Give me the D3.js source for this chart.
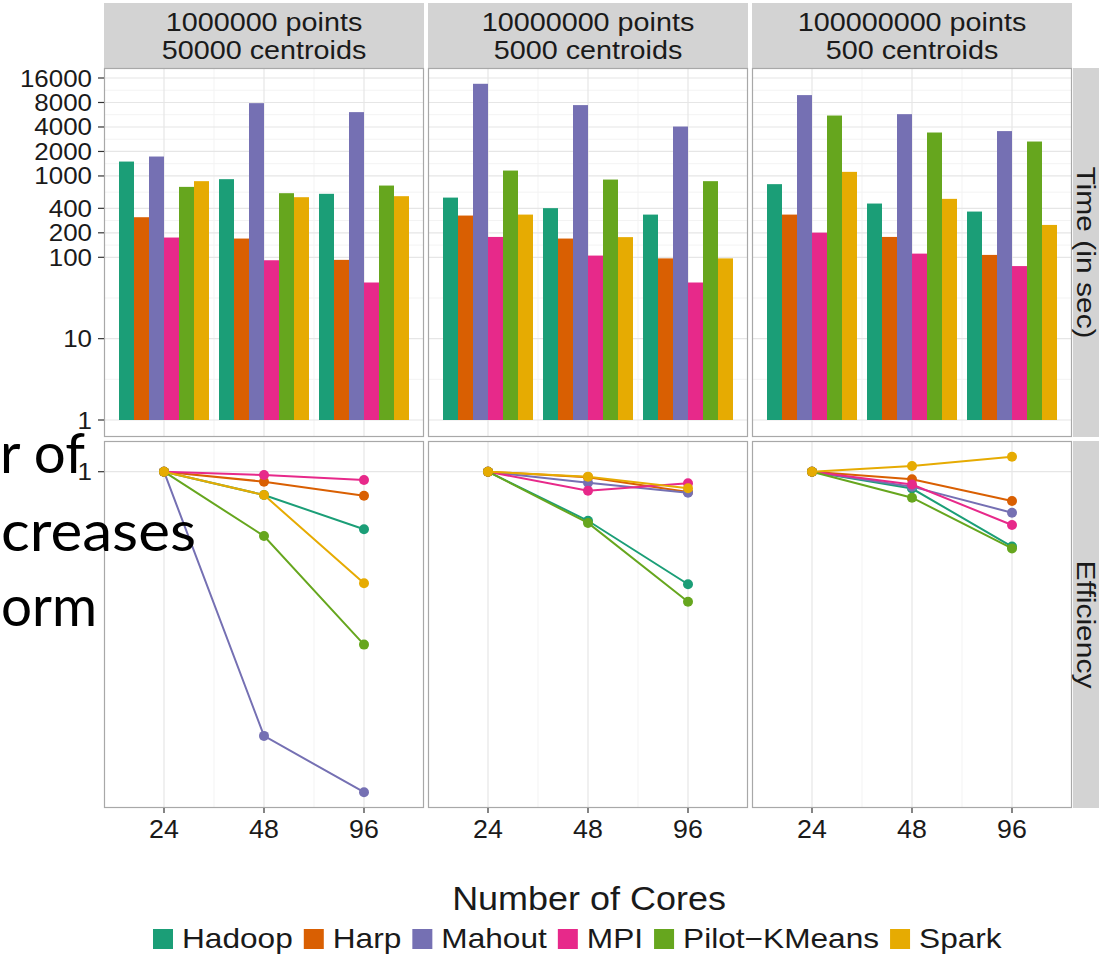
<!DOCTYPE html>
<html>
<head>
<meta charset="utf-8">
<script src="https://cdn.jsdelivr.net/npm/d3@7/dist/d3.min.js"></script>
<style>
  html, body { margin: 0; padding: 0; background: #fff; }
  svg { display: block; }
  text { font-family: "Liberation Sans", Arial, sans-serif; fill: #1a1a1a; }
</style>
</head>
<body>
<svg id="chart" width="1099" height="956"></svg>
<script>
// ---------------- DATA ----------------
const cores = ["24", "48", "96"];
const series = ["Hadoop", "Harp", "Mahout", "MPI", "Pilot\u2212KMeans", "Spark"];
const colors = ["#1B9E77", "#D95F02", "#7570B3", "#E7298A", "#66A61E", "#E6AB02"];
const datasetLine1 = ["1000000 points", "10000000 points", "100000000 points"];
const datasetLine2 = ["50000 centroids", "5000 centroids", "500 centroids"];
const timeTicks = [1, 10, 100, 200, 400, 1000, 2000, 4000, 8000, 16000];
const effTicks = [1];

// Time (in sec): one row per dataset, values at 24/48/96 cores
const timeHadoop = [[1503, 913, 603], [542, 402, 335], [793, 458, 365]];
const timeHarp   = [[311, 170, 93],   [326, 170, 97],  [335, 178, 107]];
const timeMahout = [[1733, 7850, 6090], [13580, 7430, 4050], [9860, 5750, 3560]];
const timeMPI    = [[175, 92, 49],    [178, 105, 49],  [201, 111, 78]];
const timePilot  = [[734, 614, 762],  [1165, 903, 863], [5530, 3420, 2650]];
const timeSpark  = [[863, 548, 564],  [335, 177, 97],  [1123, 523, 250]];

// Efficiency: one row per dataset, values at 24/48/96 cores
const effHadoop = [[1, 0.825, 0.622], [1, 0.667, 0.395], [1, 0.870, 0.539]];
const effHarp   = [[1, 0.921, 0.820], [1, 0.955, 0.845], [1, 0.939, 0.785]];
const effMahout = [[1, 0.113, 0.071], [1, 0.913, 0.841], [1, 0.884, 0.713]];
const effMPI    = [[1, 0.973, 0.934], [1, 0.855, 0.909], [1, 0.900, 0.644]];
const effPilot  = [[1, 0.588, 0.240], [1, 0.655, 0.342], [1, 0.807, 0.531]];
const effSpark  = [[1, 0.825, 0.398], [1, 0.960, 0.872], [1, 1.048, 1.132]];

const timeData = [timeHadoop, timeHarp, timeMahout, timeMPI, timePilot, timeSpark];
const effData  = [effHadoop, effHarp, effMahout, effMPI, effPilot, effSpark];

// ---------------- LAYOUT ----------------
const svg = d3.select("#chart");
svg.append("rect").attr("width", 1099).attr("height", 956).attr("fill", "#fff");

const panelW = 320, gapX = 4;
const panelX = [104, 104 + panelW + gapX, 104 + 2 * (panelW + gapX)];
const topY0 = 68, topY1 = 437, botY0 = 441, botY1 = 808;
const stripTop = 3;
const stripFill = "#d3d3d3";
const borderColor = "#a8a8a8";
const gridMajor = "#e6e6e6", gridMinor = "#f3f3f3";

const yTime = d3.scaleLog().domain([1, 16000]).range([420, 78]);
const yEff = d3.scaleLog().domain([0.1, 1]).range([471.7 + 279, 471.7]);

function txt(g, x, y, s, size, sx, anchor, rot) {
  return g.append("text")
    .attr("transform", `translate(${x},${y}) rotate(${rot || 0}) scale(${sx},1)`)
    .attr("text-anchor", anchor || "middle")
    .style("font-size", size + "px")
    .text(s);
}

const color = d3.scaleOrdinal().domain(series).range(colors);

panelX.forEach((x0, p) => {
  const xBand = d3.scaleBand().domain(cores).range([x0, x0 + panelW]).paddingInner(0).paddingOuter(0.1);
  const step = xBand.step();
  const xSub = d3.scaleBand().domain(series).range([-0.45 * step, 0.45 * step]).padding(0);
  const xc = c => xBand(c) + xBand.bandwidth() / 2;

  // top strip
  const sg = svg.append("g");
  sg.append("rect").attr("x", x0).attr("y", stripTop).attr("width", panelW).attr("height", topY0 - stripTop).attr("fill", stripFill);
  txt(sg, x0 + panelW / 2, 31, datasetLine1[p], 25, 1.15);
  txt(sg, x0 + panelW / 2, 59, datasetLine2[p], 25, 1.15);

  // ---- top panel (time) ----
  const g1 = svg.append("g");
  g1.append("rect").attr("x", x0).attr("y", topY0).attr("width", panelW).attr("height", topY1 - topY0).attr("fill", "#fff");
  // minor horizontal grid (geometric midpoints)
  for (let i = 0; i < timeTicks.length - 1; i++) {
    const m = Math.sqrt(timeTicks[i] * timeTicks[i + 1]);
    g1.append("line").attr("x1", x0).attr("x2", x0 + panelW).attr("y1", yTime(m)).attr("y2", yTime(m)).attr("stroke", gridMinor).attr("stroke-width", 1);
  }
  // minor vertical grid
  [0, 1].forEach(i => {
    const xm = (xc(cores[i]) + xc(cores[i + 1])) / 2;
    g1.append("line").attr("x1", xm).attr("x2", xm).attr("y1", topY0).attr("y2", topY1).attr("stroke", gridMinor);
  });
  timeTicks.forEach(t => {
    g1.append("line").attr("x1", x0).attr("x2", x0 + panelW).attr("y1", yTime(t)).attr("y2", yTime(t)).attr("stroke", gridMajor).attr("stroke-width", 1.2);
  });
  cores.forEach(c => {
    g1.append("line").attr("x1", xc(c)).attr("x2", xc(c)).attr("y1", topY0).attr("y2", topY1).attr("stroke", gridMajor).attr("stroke-width", 1.2);
  });
  // bars
  series.forEach((s, si) => {
    cores.forEach((c, ci) => {
      const v = timeData[si][p][ci];
      g1.append("rect")
        .attr("x", xc(c) + xSub(s))
        .attr("width", xSub.bandwidth())
        .attr("y", yTime(v))
        .attr("height", yTime(1) - yTime(v))
        .attr("fill", color(s));
    });
  });
  g1.append("rect").attr("x", x0 + 0.5).attr("y", topY0 + 0.5).attr("width", panelW - 1).attr("height", topY1 - topY0 - 1)
    .attr("fill", "none").attr("stroke", borderColor).attr("stroke-width", 1.2);

  // ---- bottom panel (efficiency) ----
  const g2 = svg.append("g");
  g2.append("rect").attr("x", x0).attr("y", botY0).attr("width", panelW).attr("height", botY1 - botY0).attr("fill", "#fff");
  [0, 1].forEach(i => {
    const xm = (xc(cores[i]) + xc(cores[i + 1])) / 2;
    g2.append("line").attr("x1", xm).attr("x2", xm).attr("y1", botY0).attr("y2", botY1).attr("stroke", gridMinor);
  });
  effTicks.forEach(t => {
    g2.append("line").attr("x1", x0).attr("x2", x0 + panelW).attr("y1", yEff(t)).attr("y2", yEff(t)).attr("stroke", gridMajor).attr("stroke-width", 1.2);
  });
  cores.forEach(c => {
    g2.append("line").attr("x1", xc(c)).attr("x2", xc(c)).attr("y1", botY0).attr("y2", botY1).attr("stroke", gridMajor).attr("stroke-width", 1.2);
  });
  const line = d3.line().x(d => xc(d.c)).y(d => yEff(d.v));
  series.forEach((s, si) => {
    const pts = cores.map((c, ci) => ({ c: c, v: effData[si][p][ci] }));
    g2.append("path").attr("d", line(pts)).attr("fill", "none").attr("stroke", color(s)).attr("stroke-width", 2);
    g2.selectAll(null).data(pts).enter().append("circle")
      .attr("cx", d => xc(d.c)).attr("cy", d => yEff(d.v)).attr("r", 5).attr("fill", color(s));
  });
  g2.append("rect").attr("x", x0 + 0.5).attr("y", botY0 + 0.5).attr("width", panelW - 1).attr("height", botY1 - botY0 - 1)
    .attr("fill", "none").attr("stroke", borderColor).attr("stroke-width", 1.2);

  // x axis ticks + labels
  cores.forEach(c => {
    svg.append("line").attr("x1", xc(c)).attr("x2", xc(c)).attr("y1", botY1).attr("y2", botY1 + 5).attr("stroke", "#333").attr("stroke-width", 1.2);
    txt(svg, xc(c), 838, c, 26, 1.03);
  });
});

// y axis (time) on the left
timeTicks.forEach(t => {
  svg.append("line").attr("x1", 98).attr("x2", 104).attr("y1", yTime(t)).attr("y2", yTime(t)).attr("stroke", "#333").attr("stroke-width", 1.2);
  txt(svg, 92, yTime(t) + 8.5, String(t), 24, 1.08, "end");
});
effTicks.forEach(t => {
  svg.append("line").attr("x1", 98).attr("x2", 104).attr("y1", yEff(t)).attr("y2", yEff(t)).attr("stroke", "#333").attr("stroke-width", 1.2);
  txt(svg, 92, yEff(t) + 8.5, String(t), 24, 1.08, "end");
});

// right strips
const rx = panelX[2] + panelW + 1;
svg.append("rect").attr("x", rx).attr("y", topY0).attr("width", 40).attr("height", topY1 - topY0).attr("fill", stripFill);
svg.append("rect").attr("x", rx).attr("y", botY0).attr("width", 40).attr("height", botY1 - botY0).attr("fill", stripFill);
txt(svg, 1077, (topY0 + topY1) / 2, "Time (in sec)", 25, 1.2, "middle", 90);
txt(svg, 1077, (botY0 + botY1) / 2, "Efficiency", 25, 1.2, "middle", 90);

// x axis title
txt(svg, 589, 910, "Number of Cores", 33, 1.09, "middle");

// legend
const lg = svg.append("g");
let lx = 153;
series.forEach((s, i) => {
  lg.append("rect").attr("x", lx).attr("y", 929).attr("width", 20).attr("height", 20).attr("fill", color(s));
  const t = txt(lg, lx + 29, 948, s, 28, 1.13, "start");
  const w = t.node().getComputedTextLength() * 1.13;
  lx += 29 + w + 11;
});

// slide text overlay (partially visible, cut at left edge)
const ov = svg.append("g");
const ovLines = [["r of", 0, 473, 85], ["creases", 1, 551, 195], ["orm", 1, 626, 96]];
ovLines.forEach(d => {
  ov.append("text").attr("x", d[1]).attr("y", d[2])
    .attr("textLength", d[3]).attr("lengthAdjust", "spacingAndGlyphs")
    .style("font-family", "Lato, 'Open Sans', sans-serif").style("font-size", "57px").style("fill", "#000")
    .text(d[0]);
});
</script>
</body>
</html>
